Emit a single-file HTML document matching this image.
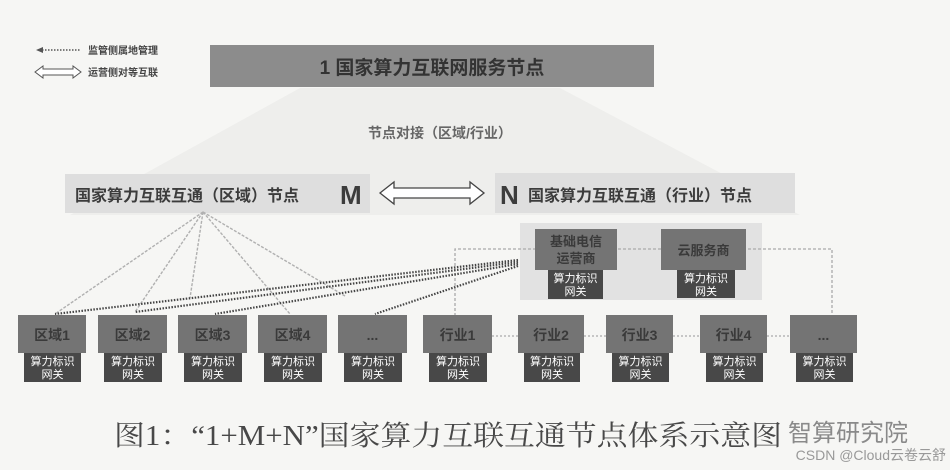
<!DOCTYPE html>
<html><head><meta charset="utf-8"><style>
body{margin:0;width:950px;height:470px;background:#f6f6f4;overflow:hidden}
svg{display:block}
text{font-family:"Liberation Sans","Noto Sans CJK SC",sans-serif}
</style></head><body>
<svg width="950" height="470" viewBox="0 0 950 470" xmlns="http://www.w3.org/2000/svg">
<polygon points="300,88 560,88 800,215 70,215" fill="#eeeeec"/>
<rect x="210" y="45" width="444" height="42" fill="#8c8c8c"/>
<text x="432" y="74" font-size="19" font-weight="bold" fill="#333" text-anchor="middle">1 国家算力互联网服务节点</text>
<line x1="42" y1="50" x2="80" y2="50" stroke="#555" stroke-width="1.5" stroke-dasharray="1.5,1.5"/>
<polygon points="36,50 43,47 43,53" fill="#555"/>
<text x="88" y="54" font-size="10" font-weight="bold" fill="#444">监管侧属地管理</text>
<path d="M35,72 l8,-6 v3 h30 v-3 l8,6 l-8,6 v-3 h-30 v3 z" fill="#fff" stroke="#555" stroke-width="1"/>
<text x="88" y="76" font-size="10" font-weight="bold" fill="#444">运营侧对等互联</text>
<text x="440" y="138" font-size="14" font-weight="bold" fill="#666" text-anchor="middle">节点对接（区域/行业）</text>
<rect x="65" y="174" width="305" height="39" fill="#dedede"/>
<text x="75" y="201" font-size="16" font-weight="bold" fill="#3c3c3c">国家算力互联互通（区域）节点</text>
<text x="340" y="204" font-size="26" font-weight="bold" fill="#3c3c3c">M</text>
<rect x="495" y="173" width="300" height="40" fill="#dedede"/>
<text x="500" y="204" font-size="26" font-weight="bold" fill="#3c3c3c">N</text>
<text x="528" y="201" font-size="16" font-weight="bold" fill="#3c3c3c">国家算力互联互通（行业）节点</text>
<path d="M380,193 l14,-11 v6 h76 v-6 l14,11 l-14,11 v-6 h-76 v6 z" fill="#fff" stroke="#444" stroke-width="1.3"/>
<rect x="520" y="223" width="242" height="77" fill="#e2e2e2"/>
<polyline points="455,316 455,249 832,249 832,316" fill="none" stroke="#aaa" stroke-width="1.3" stroke-dasharray="3,2"/>
<rect x="535" y="229" width="82" height="41" fill="#747474"/>
<text x="576" y="246" font-size="13" font-weight="bold" fill="#3a3a3a" text-anchor="middle">基础电信</text>
<text x="576" y="263" font-size="13" font-weight="bold" fill="#3a3a3a" text-anchor="middle">运营商</text>
<rect x="548" y="270" width="55" height="29" fill="#484848"/>
<text x="575.5" y="282" font-size="11" fill="#fff" text-anchor="middle">算力标识</text>
<text x="575.5" y="295" font-size="11" fill="#fff" text-anchor="middle">网关</text>
<rect x="661" y="229" width="85" height="41" fill="#747474"/>
<text x="703.5" y="255" font-size="13" font-weight="bold" fill="#3a3a3a" text-anchor="middle">云服务商</text>
<rect x="677" y="270" width="58" height="28" fill="#484848"/>
<text x="706" y="282" font-size="11" fill="#fff" text-anchor="middle">算力标识</text>
<text x="706" y="295" font-size="11" fill="#fff" text-anchor="middle">网关</text>
<g stroke="#b0b0b0" stroke-width="1.4" stroke-dasharray="3,1.5" fill="none">
<line x1="203" y1="212" x2="55" y2="314"/>
<line x1="203" y1="212" x2="135" y2="312"/>
<line x1="203" y1="212" x2="190" y2="298"/>
<line x1="203" y1="212" x2="290" y2="314"/>
<line x1="203" y1="212" x2="345" y2="296"/>
</g>
<g stroke="#444" stroke-width="2.2" stroke-dasharray="1.5,1.5" fill="none">
<line x1="518" y1="260" x2="55" y2="314"/>
<line x1="518" y1="262" x2="135" y2="312"/>
<line x1="518" y1="264" x2="215" y2="314"/>
<line x1="518" y1="266" x2="375" y2="314"/>
</g>
<g stroke="#aaa" stroke-width="1.3" stroke-dasharray="2,2">
<line x1="492" y1="336" x2="518" y2="336"/>
<line x1="584" y1="336" x2="606" y2="336"/>
<line x1="673" y1="336" x2="700" y2="336"/>
<line x1="767" y1="336" x2="790" y2="336"/>
</g>
<g>
<rect x="18" y="315" width="68" height="38" fill="#747474"/><text x="52" y="340" font-size="14" font-weight="bold" fill="#3a3a3a" text-anchor="middle">区域1</text><rect x="24" y="353" width="57" height="29" fill="#484848"/><text x="52.5" y="365" font-size="11" fill="#fff" text-anchor="middle">算力标识</text><text x="52.5" y="378" font-size="11" fill="#fff" text-anchor="middle">网关</text>
<rect x="98" y="315" width="69" height="38" fill="#747474"/><text x="132.5" y="340" font-size="14" font-weight="bold" fill="#3a3a3a" text-anchor="middle">区域2</text><rect x="104" y="353" width="58" height="29" fill="#484848"/><text x="133" y="365" font-size="11" fill="#fff" text-anchor="middle">算力标识</text><text x="133" y="378" font-size="11" fill="#fff" text-anchor="middle">网关</text>
<rect x="178" y="315" width="69" height="38" fill="#747474"/><text x="212.5" y="340" font-size="14" font-weight="bold" fill="#3a3a3a" text-anchor="middle">区域3</text><rect x="184" y="353" width="58" height="29" fill="#484848"/><text x="213" y="365" font-size="11" fill="#fff" text-anchor="middle">算力标识</text><text x="213" y="378" font-size="11" fill="#fff" text-anchor="middle">网关</text>
<rect x="258" y="315" width="69" height="38" fill="#747474"/><text x="292.5" y="340" font-size="14" font-weight="bold" fill="#3a3a3a" text-anchor="middle">区域4</text><rect x="264" y="353" width="58" height="29" fill="#484848"/><text x="293" y="365" font-size="11" fill="#fff" text-anchor="middle">算力标识</text><text x="293" y="378" font-size="11" fill="#fff" text-anchor="middle">网关</text>
<rect x="338" y="315" width="69" height="38" fill="#747474"/><text x="372.5" y="340" font-size="14" font-weight="bold" fill="#3a3a3a" text-anchor="middle">...</text><rect x="344" y="353" width="58" height="29" fill="#484848"/><text x="373" y="365" font-size="11" fill="#fff" text-anchor="middle">算力标识</text><text x="373" y="378" font-size="11" fill="#fff" text-anchor="middle">网关</text>
<rect x="423" y="315" width="69" height="38" fill="#747474"/><text x="457.5" y="340" font-size="14" font-weight="bold" fill="#3a3a3a" text-anchor="middle">行业1</text><rect x="429" y="353" width="58" height="29" fill="#484848"/><text x="458" y="365" font-size="11" fill="#fff" text-anchor="middle">算力标识</text><text x="458" y="378" font-size="11" fill="#fff" text-anchor="middle">网关</text>
<rect x="518" y="315" width="66" height="38" fill="#747474"/><text x="551" y="340" font-size="14" font-weight="bold" fill="#3a3a3a" text-anchor="middle">行业2</text><rect x="524" y="353" width="56" height="29" fill="#484848"/><text x="552" y="365" font-size="11" fill="#fff" text-anchor="middle">算力标识</text><text x="552" y="378" font-size="11" fill="#fff" text-anchor="middle">网关</text>
<rect x="606" y="315" width="67" height="38" fill="#747474"/><text x="639.5" y="340" font-size="14" font-weight="bold" fill="#3a3a3a" text-anchor="middle">行业3</text><rect x="612" y="353" width="57" height="29" fill="#484848"/><text x="640.5" y="365" font-size="11" fill="#fff" text-anchor="middle">算力标识</text><text x="640.5" y="378" font-size="11" fill="#fff" text-anchor="middle">网关</text>
<rect x="700" y="315" width="67" height="38" fill="#747474"/><text x="733.5" y="340" font-size="14" font-weight="bold" fill="#3a3a3a" text-anchor="middle">行业4</text><rect x="706" y="353" width="57" height="29" fill="#484848"/><text x="734.5" y="365" font-size="11" fill="#fff" text-anchor="middle">算力标识</text><text x="734.5" y="378" font-size="11" fill="#fff" text-anchor="middle">网关</text>
<rect x="790" y="315" width="67" height="38" fill="#747474"/><text x="823.5" y="340" font-size="14" font-weight="bold" fill="#3a3a3a" text-anchor="middle">...</text><rect x="796" y="353" width="57" height="29" fill="#484848"/><text x="824.5" y="365" font-size="11" fill="#fff" text-anchor="middle">算力标识</text><text x="824.5" y="378" font-size="11" fill="#fff" text-anchor="middle">网关</text>
</g>
<text x="114" y="445" font-size="28" fill="#484848" textLength="668" lengthAdjust="spacingAndGlyphs" style="font-family:'Liberation Serif','Noto Serif CJK SC',serif">图1：“1+M+N”国家算力互联互通节点体系示意图</text>
<text x="788" y="441" font-size="24" fill="#8a8a8a" style="font-family:'Noto Sans CJK SC',sans-serif">智算研究院</text>
<text x="946" y="460" font-size="14" fill="#999" text-anchor="end">CSDN @Cloud云卷云舒</text>
</svg>
</body></html>
